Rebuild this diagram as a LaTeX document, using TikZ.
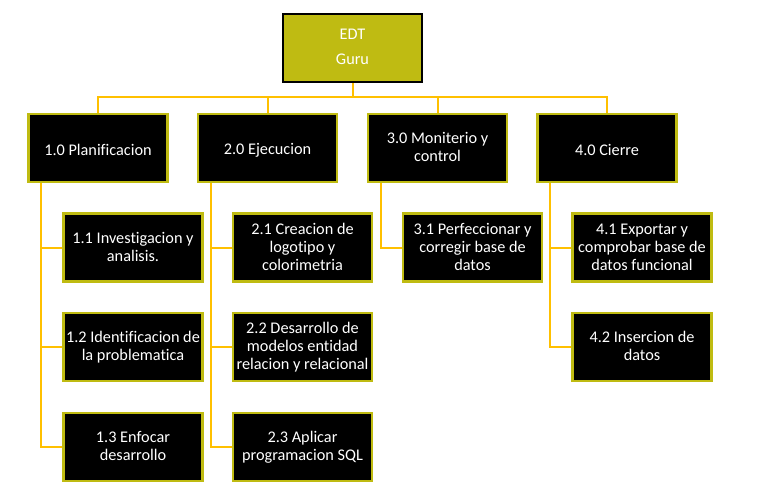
\documentclass[tikz,border=0pt]{standalone}
\usepackage{fontspec}
\setmainfont{Carlito}[Ligatures=NoCommon]
\usetikzlibrary{calc}
\definecolor{olivebox}{RGB}{191,187,18}
\definecolor{goldline}{RGB}{255,192,0}
\newcommand\mytopstrut{\rule{0pt}{11.8pt}}
\newcommand\mybotstrut{\rule[-1.1pt]{0pt}{1.1pt}}
\tikzset{
  box/.style={rectangle, draw=olivebox, fill=black, line width=1.6pt,
    minimum width=104.25pt, minimum height=51pt, inner sep=1pt,
    text=white, align=center, font=\fontsize{12.2}{13.5}\selectfont,
    execute at begin node=\mytopstrut, execute at end node=\mybotstrut},
  topbox/.style={rectangle, draw=black, fill=olivebox, line width=1.6pt,
    minimum width=104.25pt, minimum height=51pt, inner sep=1pt,
    text=white, align=center, font=\fontsize{12.2}{18.75}\selectfont,
    execute at begin node=\mytopstrut, execute at end node=\mybotstrut},
  conn/.style={draw=goldline, line width=1.5pt}
}
\begin{document}
\begin{tikzpicture}[x=0.75pt,y=-0.75pt]
\useasboundingbox (0,0) rectangle (757,497);
\node[topbox] (top) at (352.5,48) {EDT\\Guru};
\node[box] (p1) at (98,148) {1.0 Planificacion};
\node[box] (p2) at (267.5,148) {2.0 Ejecucion};
\node[box] (p3) at (437.5,148) {3.0 Moniterio y\\control};
\node[box] (p4) at (607,148) {4.0 Cierre};
\node[box] (c11) at (133,247.5) {1.1 Investigacion y\\analisis.};
\node[box] (c12) at (133,347) {1.2 Identificacion de\\la problematica};
\node[box] (c13) at (133,447) {1.3 Enfocar\\desarrollo};
\node[box] (c21) at (302.5,247.5) {2.1 Creacion de\\logotipo y\\colorimetria};
\node[box] (c22) at (302.5,347) {2.2 Desarrollo de\\modelos entidad\\relacion y relacional};
\node[box] (c23) at (302.5,447) {2.3 Aplicar\\programacion SQL};
\node[box] (c31) at (472.5,247.5) {3.1 Perfeccionar y\\corregir base de\\datos};
\node[box] (c41) at (642,247.5) {4.1 Exportar y\\comprobar base de\\datos funcional};
\node[box] (c42) at (642,347) {4.2 Insercion de\\datos};
\begin{scope}[on background layer/.try]
\foreach \p in {p1,p2,p3,p4}
  \draw[conn] (top.south) -- ++(0,14) -| (\p.north);
\foreach \p/\c in {p1/c11,p1/c12,p1/c13,p2/c21,p2/c22,p2/c23,p3/c31,p4/c41,p4/c42}
  \draw[conn] (\p.south west) ++(14,0) |- (\c.west);
\end{scope}
\end{tikzpicture}
\end{document}
